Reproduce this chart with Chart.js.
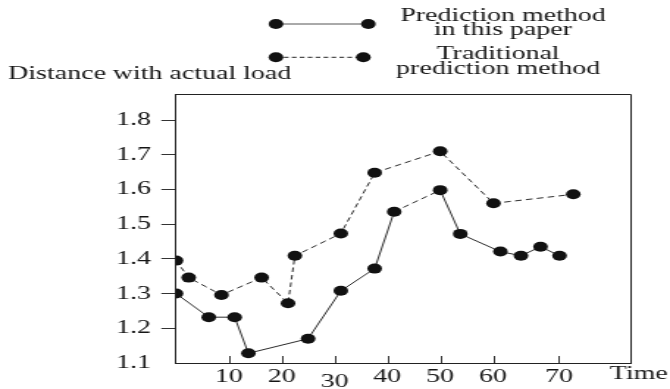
<!DOCTYPE html>
<html>
<head>
<meta charset="utf-8">
<script src="https://cdn.jsdelivr.net/npm/chart.js@4.4.1/dist/chart.umd.min.js"></script>
<style>
  html, body { margin: 0; padding: 0; background: #fff; overflow: hidden; }
  /* the original figure is stretched sideways, so draw narrow and stretch */
  #wrap { width: 456px; height: 389px; transform: scaleX(1.4693); transform-origin: 0 0; }
</style>
</head>
<body>
<div id="wrap"><canvas id="loadChart" width="456" height="389"></canvas></div>
<script>
// Values: x = time, y = distance with actual load
const paperTimes  = [0, 6.2, 11.1, 13.7, 25.0, 31.2, 37.6, 41.3, 50.0, 53.8, 61.4, 65.3, 69.0, 72.6];
const paperValues = [1.30, 1.232, 1.232, 1.128, 1.170, 1.308, 1.372, 1.536, 1.598, 1.472, 1.421, 1.409, 1.435, 1.409];
const tradTimes   = [0, 2.4, 8.6, 16.2, 21.2, 22.5, 31.2, 37.6, 50.0, 60.1, 75.2];
const tradValues  = [1.395, 1.346, 1.296, 1.346, 1.272, 1.409, 1.473, 1.648, 1.710, 1.560, 1.586];

const seriesNames = [['Prediction method', 'in this paper'], ['Traditional', 'prediction method']];
const yTicks = [1.1, 1.2, 1.3, 1.4, 1.5, 1.6, 1.7, 1.8];
const xTicks = [10, 20, 30, 40, 50, 60, 72.5];  // "70" sits off the even spacing in the original
const xTickLabels = ['10', '20', '30', '40', '50', '60', '70'];
const yAxisTitle = 'Distance with actual load';
const xAxisTitle = 'Time';

const FONT = '"Liberation Serif", "Times New Roman", serif';
const INK = '#151515';

function toPoints(xs, ys) {
  return xs.map((x, i) => ({ x: x, y: ys[i] }));
}

// frame, inner x ticks, titles and the hand-made legend
const decorations = {
  id: 'decorations',
  afterDraw(chart) {
    const ctx = chart.ctx;
    const area = chart.chartArea;
    const xs = chart.scales.x;
    ctx.save();

    ctx.strokeStyle = '#222';
    ctx.lineWidth = 1;
    ctx.beginPath();
    ctx.moveTo(area.left, Math.round(area.top) + 0.5);
    ctx.lineTo(Math.round(area.right) + 0.5, Math.round(area.top) + 0.5);
    ctx.lineTo(Math.round(area.right) + 0.5, area.bottom);
    ctx.stroke();

    ctx.strokeStyle = '#333';
    xs.ticks.forEach(t => {
      const px = Math.round(xs.getPixelForValue(t.value)) + 0.5;
      ctx.beginPath();
      ctx.moveTo(px, area.bottom);
      ctx.lineTo(px, area.bottom - 7);
      ctx.stroke();
    });

    ctx.fillStyle = INK;
    ctx.font = '19px ' + FONT;
    ctx.textBaseline = 'alphabetic';
    ctx.textAlign = 'left';
    ctx.fillText(yAxisTitle, 5.6, 79.3);
    ctx.textBaseline = 'middle';
    ctx.fillText(xAxisTitle, 415, 374);

    // legend
    const rows = [
      { y: 24, x2: 250.7, dash: [], textX: 342.3, base: [21, 35] },
      { y: 57.3, x2: 247.3, dash: [3.2, 2.2], textX: 339, base: [59.3, 74] }
    ];
    rows.forEach((r, i) => {
      ctx.strokeStyle = i === 0 ? '#555' : '#222';
      ctx.lineWidth = 1;
      ctx.setLineDash(r.dash);
      ctx.beginPath();
      ctx.moveTo(187.8, r.y);
      ctx.lineTo(r.x2, r.y);
      ctx.stroke();
      ctx.setLineDash([]);
      ctx.fillStyle = '#111';
      [187.8, r.x2].forEach(cx => {
        ctx.beginPath();
        ctx.arc(cx, r.y, 5, 0, Math.PI * 2);
        ctx.fill();
      });
      ctx.fillStyle = INK;
      ctx.textAlign = 'center';
      ctx.textBaseline = 'alphabetic';
      seriesNames[i].forEach((line, k) => ctx.fillText(line, r.textX, r.base[k]));
    });
    ctx.restore();
  }
};

new Chart(document.getElementById('loadChart'), {
  type: 'line',
  data: {
    datasets: [
      {
        label: seriesNames[0].join(' '),
        data: toPoints(paperTimes, paperValues),
        borderColor: '#2b2b2b',
        borderWidth: 1,
        pointRadius: 5,
        pointBackgroundColor: '#111',
        pointBorderColor: '#111',
        pointBorderWidth: 0,
        // the original draws the 41 -> 50 stretch of this line dashed
        segment: { borderDash: c => c.p0DataIndex === 7 ? [4.5, 3] : undefined }
      },
      {
        label: seriesNames[1].join(' '),
        data: toPoints(tradTimes, tradValues),
        borderColor: '#2b2b2b',
        borderWidth: 1,
        borderDash: [4.5, 3],
        pointRadius: 5,
        pointBackgroundColor: '#111',
        pointBorderColor: '#111',
        pointBorderWidth: 0
      }
    ]
  },
  options: {
    responsive: false,
    animation: false,
    devicePixelRatio: 1,
    layout: { padding: { left: 0, top: 94, right: 27, bottom: 0 } },
    plugins: {
      legend: { display: false },
      tooltip: { enabled: false }
    },
    scales: {
      x: {
        type: 'linear',
        min: 0,
        max: 86,
        afterBuildTicks: s => { s.ticks = xTicks.map(v => ({ value: v })); },
        afterFit: s => { s.height = 26; },
        grid: { display: false },
        border: { display: true, color: '#222', width: 1 },
        ticks: {
          padding: -3.5,
          color: INK,
          maxRotation: 0,
          autoSkip: false,
          font: c => ({ family: FONT, size: 19, lineHeight: c.tick && c.tick.value === 30 ? 1.58 : 1 }),
          callback: v => xTickLabels[xTicks.indexOf(v)]
        }
      },
      y: {
        type: 'linear',
        min: 1.1,
        max: 1.875,
        afterBuildTicks: s => { s.ticks = yTicks.map(v => ({ value: v })); },
        afterFit: s => { s.width = 119.8; },
        grid: {
          drawOnChartArea: false,
          drawTicks: true,
          tickLength: 10,
          color: c => c.tick && c.tick.value === 1.1 ? 'rgba(0,0,0,0)' : '#333'
        },
        border: { display: true, color: '#222', width: 1 },
        ticks: {
          padding: 7,
          color: INK,
          font: { family: FONT, size: 19, lineHeight: 1 },
          callback: v => v.toFixed(1)
        }
      }
    }
  },
  plugins: [decorations]
});
</script>
</body>
</html>
